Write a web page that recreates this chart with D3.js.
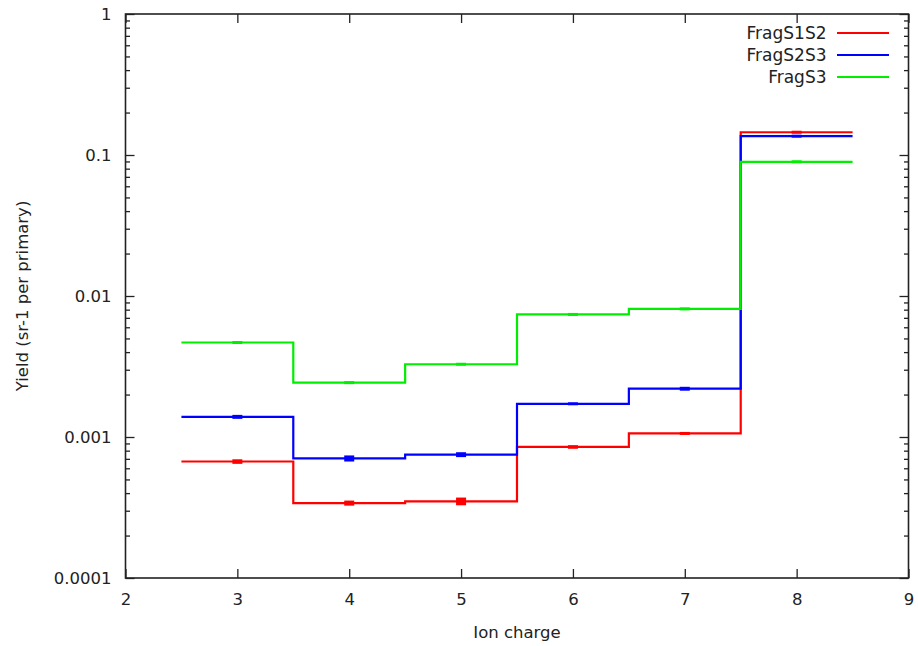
<!DOCTYPE html>
<html>
<head>
<meta charset="utf-8">
<script src="https://cdn.jsdelivr.net/npm/d3@7"></script>
<style>
  body { margin: 0; background: #fff; }
  text { font-family: "DejaVu Sans", sans-serif; fill: #222; }
</style>
</head>
<body>
<div id="chart"></div>
<script>
// Ion charges (bin centres)
const charges = [3, 4, 5, 6, 7, 8];

// Yields (sr-1 per primary)
const fragS1S2 = [6.7e-4, 3.4e-4, 3.5e-4, 8.5e-4, 1.06e-3, 0.145];
const fragS2S3 = [1.39e-3, 7.05e-4, 7.5e-4, 1.72e-3, 2.2e-3, 0.136];
const fragS3 = [4.68e-3, 2.43e-3, 3.28e-3, 7.4e-3, 8.1e-3, 0.0895];

// Uncertainties
const errS1S2 = [2.5e-5, 1.4e-5, 2.2e-5, 2.5e-5, 2.5e-5, 0.0004];
const errS2S3 = [4.5e-5, 3.5e-5, 3.0e-5, 4.0e-5, 7.0e-5, 0.0004];
const errS3 = [8e-5, 6e-5, 6e-5, 1.2e-4, 1.4e-4, 0.0003];

const seriesNames = ['FragS1S2', 'FragS2S3', 'FragS3'];
const xTicks = [2, 3, 4, 5, 6, 7, 8, 9];
const yTicks = [1e-4, 1e-3, 1e-2, 1e-1, 1];
const yTickLabels = ['0.0001', '0.001', '0.01', '0.1', '1'];

const series = [
  { name: seriesNames[0], values: fragS1S2, errors: errS1S2, color: '#ff0000' },
  { name: seriesNames[1], values: fragS2S3, errors: errS2S3, color: '#0000ff' },
  { name: seriesNames[2], values: fragS3, errors: errS3, color: '#00ee00' },
];

const totalWidth = 918;
const totalHeight = 646;
const margin = { top: 14, right: 9.5, bottom: 68, left: 125.5 };
const width = totalWidth - margin.left - margin.right;
const height = totalHeight - margin.top - margin.bottom;

const x = d3.scaleLinear().domain([2, 9]).range([0, width]);
const y = d3.scaleLog().domain([1e-4, 1]).range([height, 0]);

const svg = d3.select('#chart')
  .append('svg')
  .attr('width', totalWidth)
  .attr('height', totalHeight)
  .append('g')
  .attr('transform', `translate(${margin.left}, ${margin.top})`);

// log minor ticks
const minorTicks = [];
for (let e = -4; e < 0; e++) {
  for (let m = 2; m <= 9; m++) minorTicks.push(m * Math.pow(10, e));
}

const tickColor = '#222';

// Axes (ticks inward)
const yLeft = d3.axisLeft(y).tickValues(yTicks).tickSize(-9).tickPadding(14)
  .tickFormat((d, i) => yTickLabels[i]);
const gyl = svg.append('g').call(yLeft);
gyl.selectAll('text').style('font-size', '16.5px');

const gylm = svg.append('g').call(d3.axisLeft(y).tickValues(minorTicks).tickSize(-4.5).tickFormat(''));
const gyr = svg.append('g').attr('transform', `translate(${width},0)`)
  .call(d3.axisRight(y).tickValues(yTicks).tickSize(-9).tickFormat(''));
const gyrm = svg.append('g').attr('transform', `translate(${width},0)`)
  .call(d3.axisRight(y).tickValues(minorTicks).tickSize(-4.5).tickFormat(''));

const gxb = svg.append('g').attr('transform', `translate(0,${height})`)
  .call(d3.axisBottom(x).tickValues(xTicks).tickSize(-9).tickPadding(15).tickFormat(d3.format('d')));
gxb.selectAll('text').style('font-size', '16.5px');
const gxt = svg.append('g')
  .call(d3.axisTop(x).tickValues(xTicks).tickSize(-9).tickFormat(''));

[gyl, gylm, gyr, gyrm, gxb, gxt].forEach((g) => {
  g.select('.domain').remove();
  g.selectAll('line').attr('stroke', tickColor).attr('stroke-width', 1.3);
});

// frame
svg.append('rect')
  .attr('x', 0).attr('y', 0)
  .attr('width', width).attr('height', height)
  .attr('fill', 'none')
  .attr('stroke', tickColor)
  .attr('stroke-width', 1.6);

// step lines (histeps)
const line = d3.line().x(d => x(d[0])).y(d => y(d[1]));

series.forEach((s) => {
  const pts = [];
  charges.forEach((c, i) => {
    pts.push([c - 0.5, s.values[i]]);
    pts.push([c + 0.5, s.values[i]]);
  });
  svg.append('path')
    .attr('d', line(pts))
    .attr('fill', 'none')
    .attr('stroke', s.color)
    .attr('stroke-width', 2.2);

  // error bars
  svg.append('g').selectAll('rect')
    .data(charges.map((c, i) => ({ c, v: s.values[i], e: s.errors[i] })))
    .enter()
    .append('rect')
    .attr('x', d => x(d.c) - 5)
    .attr('width', 10)
    .attr('y', d => Math.min(y(d.v + d.e), y(d.v) - 1.5))
    .attr('height', d => Math.max(y(d.v - d.e) - y(d.v + d.e), 3))
    .attr('fill', s.color);
});

// legend
const legend = svg.append('g');
series.forEach((s, i) => {
  const ly = 19 + i * 22;
  legend.append('text')
    .attr('x', 701)
    .attr('y', ly)
    .attr('dy', '0.35em')
    .attr('text-anchor', 'end')
    .style('font-size', '17px')
    .text(s.name);
  legend.append('line')
    .attr('x1', 711.5).attr('x2', 763.5)
    .attr('y1', ly).attr('y2', ly)
    .attr('stroke', s.color)
    .attr('stroke-width', 2.2);
});

// axis labels
svg.append('text')
  .attr('x', width / 2)
  .attr('y', height + 60)
  .attr('text-anchor', 'middle')
  .style('font-size', '16.5px')
  .text('Ion charge');

svg.append('text')
  .attr('transform', `translate(${22 - margin.left},${height / 2}) rotate(-90)`)
  .attr('text-anchor', 'middle')
  .attr('dy', '0.35em')
  .style('font-size', '16.5px')
  .text('Yield (sr-1 per primary)');
</script>
</body>
</html>
